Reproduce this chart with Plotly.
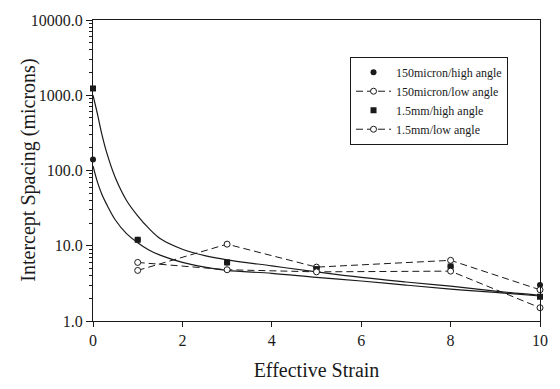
import plotly.graph_objects as go

# ---- data ----
hi150_x = [0, 1, 3, 5, 8, 10]
hi150_y = [140, 12, 6.0, 5.0, 5.3, 3.0]

lo150_x = [1, 3, 5, 8, 10]
lo150_y = [4.7, 10.5, 5.2, 6.4, 2.6]

hi15_x = [0, 1, 3, 5, 8, 10]
hi15_y = [1230, 12, 6.0, 4.9, 5.3, 2.1]

lo15_x = [1, 3, 5, 8, 10]
lo15_y = [6.0, 4.8, 4.5, 4.6, 1.5]

fit_x = [0, 0.1, 0.2, 0.3, 0.5, 0.75, 1.0, 1.25, 1.5, 2.0, 2.5, 3.0, 4.0, 5.0, 6.0, 7.0, 8.0, 9.0, 10.0]
fit_upper = [1000, 560, 300, 178, 80, 40, 25, 17, 12.5, 9.0, 7.4, 6.5, 5.4, 4.5, 3.8, 3.3, 2.9, 2.5, 2.2]
fit_lower = [115, 70, 48, 36, 22, 14.5, 11, 8.8, 7.5, 6.0, 5.2, 4.7, 4.3, 3.8, 3.4, 3.0, 2.65, 2.4, 2.15]

x_ticks = [0, 2, 4, 6, 8, 10]
y_ticks = [1, 10, 100, 1000, 10000]
y_ticktext = ["1.0", "10.0", "100.0", "1000.0", "10000.0"]

ink = "#1a1a1a"
font = "Liberation Serif"

fig = go.Figure()

fig.add_trace(go.Scatter(x=fit_x, y=fit_upper, mode="lines", line=dict(color=ink, width=1.2, shape="spline"),
                         showlegend=False, hoverinfo="skip"))
fig.add_trace(go.Scatter(x=fit_x, y=fit_lower, mode="lines", line=dict(color=ink, width=1.2, shape="spline"),
                         showlegend=False, hoverinfo="skip"))

fig.add_trace(go.Scatter(x=hi150_x, y=hi150_y, mode="markers", name="150micron/high angle",
                         marker=dict(symbol="circle", size=6, color=ink), cliponaxis=False))
fig.add_trace(go.Scatter(x=lo150_x, y=lo150_y, mode="lines+markers", name="150micron/low angle",
                         line=dict(color=ink, width=1, dash="7px,4px"),
                         marker=dict(symbol="circle", size=6, color="white", line=dict(color=ink, width=1)),
                         cliponaxis=False))
fig.add_trace(go.Scatter(x=hi15_x, y=hi15_y, mode="markers", name="1.5mm/high angle",
                         marker=dict(symbol="square", size=6, color=ink), cliponaxis=False))
fig.add_trace(go.Scatter(x=lo15_x, y=lo15_y, mode="lines+markers", name="1.5mm/low angle",
                         line=dict(color=ink, width=1, dash="7px,4px"),
                         marker=dict(symbol="circle", size=6, color="white", line=dict(color=ink, width=1)),
                         cliponaxis=False))

fig.update_layout(
    width=560, height=389,
    margin=dict(l=93, r=15, t=17, b=68),
    paper_bgcolor="white", plot_bgcolor="white",
    font=dict(family=font, color=ink),
    legend=dict(x=0.575, y=0.878, xanchor="left", yanchor="top",
                bordercolor=ink, borderwidth=1, bgcolor="white",
                font=dict(family=font, size=12, color=ink),
                itemwidth=35, tracegroupgap=0),
    annotations=[dict(text="Intercept Spacing (microns)", textangle=-90,
                      xref="paper", yref="paper", x=-0.145, y=0.5,
                      xanchor="center", yanchor="middle", showarrow=False,
                      font=dict(family=font, size=20, color=ink))],
)

fig.update_xaxes(
    range=[0, 10], tickvals=x_ticks, ticktext=[str(v) for v in x_ticks],
    showline=True, linecolor=ink, linewidth=1, mirror=True,
    ticks="outside", ticklen=5, tickcolor=ink,
    showgrid=False, zeroline=False,
    tickfont=dict(family=font, size=16, color=ink),
    title=dict(text="Effective Strain", font=dict(family=font, size=20, color=ink), standoff=14),
)
fig.update_yaxes(
    type="log", range=[0, 4], tickvals=y_ticks, ticktext=y_ticktext,
    showline=True, linecolor=ink, linewidth=1, mirror=True,
    ticks="outside", ticklen=6, tickcolor=ink,
    minor=dict(ticks="outside", ticklen=3, tickcolor=ink, dtick="D1", showgrid=False),
    showgrid=False, zeroline=False,
    tickfont=dict(family=font, size=16, color=ink),
)

fig.write_html("out.html")
